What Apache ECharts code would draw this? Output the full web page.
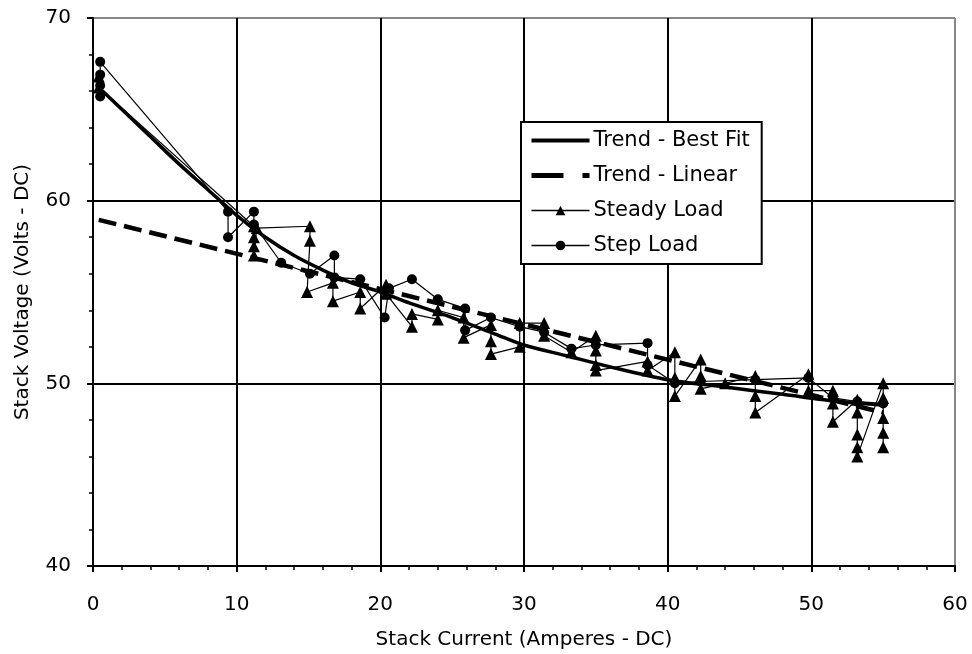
<!DOCTYPE html>
<html><head><meta charset="utf-8">
<script src="https://cdn.jsdelivr.net/npm/echarts@6/dist/echarts.min.js"></script>
<style>html,body{margin:0;padding:0;background:#fff}#c{width:972px;height:654px}</style>
</head><body><div id="c"></div>
<script>
var xTicks = [0, 10, 20, 30, 40, 50, 60];
var yTicks = [40, 50, 60, 70];

var bestFitX = [0.4, 2, 4, 6, 8, 10, 12, 14, 16, 18, 20, 22, 25, 28, 30, 33, 36, 40, 44, 48, 52, 55];
var bestFitY = [66.2, 65.0, 63.5, 62.0, 60.6, 59.2, 58.0, 57.0, 56.2, 55.5, 55.0, 54.4, 53.6, 52.7, 52.1, 51.5, 50.9, 50.2, 49.8, 49.4, 49.0, 48.8];

var linearX = [0.4, 55];
var linearY = [58.95, 48.4];

var steadyX = [0.4, 0.4, 11.2, 11.2, 11.2, 11.2, 11.4, 15.1, 15.1, 14.9, 16.7, 16.7, 18.6, 18.6, 20.4, 20.4, 22.2, 22.2, 24.0, 24.0, 25.8, 25.8, 27.7, 27.7, 27.7, 29.7, 29.7, 31.4, 31.4, 33.3, 35.0, 35.0, 35.0, 35.0, 38.6, 38.6, 40.5, 40.5, 40.5, 42.3, 42.3, 42.3, 44.0, 46.1, 46.1, 46.1, 49.8, 49.8, 51.5, 51.5, 51.5, 53.2, 53.2, 53.2, 53.2, 53.2, 55.0, 55.0, 55.0, 55.0, 55.0];
var steadyY = [66.8, 66.2, 58.6, 58.0, 57.5, 57.0, 58.5, 58.6, 57.8, 55.0, 55.5, 54.5, 55.0, 54.1, 55.4, 54.9, 53.1, 53.8, 53.5, 54.0, 53.6, 52.5, 53.2, 52.3, 51.6, 52.0, 53.3, 53.3, 52.6, 51.7, 52.6, 51.8, 51.0, 50.7, 51.2, 50.7, 51.7, 50.3, 49.3, 51.3, 50.4, 49.7, 50.0, 50.4, 49.3, 48.4, 50.5, 49.6, 49.6, 48.9, 47.9, 49.1, 48.4, 47.2, 46.5, 46.0, 50.0, 49.2, 48.1, 47.3, 46.5];

var stepX = [0.5, 0.5, 0.5, 0.5, 9.4, 9.4, 11.2, 11.2, 13.1, 15.1, 16.8, 16.8, 18.6, 20.3, 20.6, 22.2, 24.0, 25.9, 25.9, 27.7, 29.7, 31.4, 33.3, 35.0, 38.6, 38.6, 40.5, 42.3, 46.1, 49.8, 51.5, 53.2, 55.0];
var stepY = [65.7, 66.3, 66.9, 67.6, 59.4, 58.0, 59.4, 58.7, 56.6, 56.0, 57.0, 55.8, 55.7, 53.6, 55.2, 55.7, 54.6, 54.1, 52.9, 53.6, 53.1, 52.8, 51.9, 52.1, 52.2, 51.0, 50.0, 50.1, 50.2, 50.3, 49.2, 49.0, 48.9];

function pairs(xs, ys) { return xs.map(function (x, i) { return [x, ys[i]]; }); }

var font = '"DejaVu Sans", Verdana, sans-serif';
var chart = echarts.init(document.getElementById('c'));
chart.setOption({
  animation: false,
  backgroundColor: '#fff',
  grid: { left: 93, right: 17, top: 18, bottom: 88, containLabel: false, outerBoundsMode: 'none' },
  xAxis: {
    type: 'value', min: xTicks[0], max: xTicks[xTicks.length - 1], interval: 10,
    name: 'Stack Current (Amperes - DC)', nameLocation: 'middle', nameGap: 64,
    nameTextStyle: { fontFamily: font, fontSize: 20, color: '#000' },
    axisLine: { lineStyle: { color: '#000', width: 2 } },
    axisTick: { show: true, length: 6, lineStyle: { color: '#000', width: 2 } },
    minorTick: { show: true, splitNumber: 5, length: 4, lineStyle: { color: '#000', width: 1.5 } },
    axisLabel: { fontFamily: font, fontSize: 20, color: '#000', margin: 29 },
    splitLine: { show: true, lineStyle: { color: ['#000', '#000', '#000', '#000', '#000', '#000', '#888'], width: 2 } }
  },
  yAxis: {
    type: 'value', min: yTicks[0], max: yTicks[yTicks.length - 1], interval: 10,
    name: 'Stack Voltage (Volts - DC)', nameLocation: 'middle', nameGap: 60, nameRotate: 90,
    nameTextStyle: { fontFamily: font, fontSize: 20, color: '#000' },
    axisLine: { show: true, lineStyle: { color: '#000', width: 2 } },
    axisTick: { show: true, length: 6, lineStyle: { color: '#000', width: 2 } },
    minorTick: { show: true, splitNumber: 5, length: 4, lineStyle: { color: '#000', width: 1.5 } },
    axisLabel: { fontFamily: font, fontSize: 20, color: '#000', margin: 22 },
    splitLine: { show: true, lineStyle: { color: ['#000', '#000', '#000', '#888'], width: 2 } }
  },
  legend: {
    orient: 'vertical', left: 521, top: 122,
    data: [
      { name: 'Trend - Best Fit', itemStyle: { opacity: 0 }, lineStyle: { width: 4, color: '#000', type: 'solid' } },
      { name: 'Trend - Linear', itemStyle: { opacity: 0 }, lineStyle: { width: 5, color: '#000', type: [32, 19] } },
      { name: 'Steady Load', lineStyle: { width: 1.5, color: '#000' } },
      { name: 'Step Load', lineStyle: { width: 1.5, color: '#000' } }
    ],
    backgroundColor: '#fff', borderColor: '#000', borderWidth: 2, borderRadius: 0,
    padding: [8, 12, 8, 8], itemGap: 14, itemWidth: 58, itemHeight: 12,
    textStyle: { fontFamily: font, fontSize: 21, color: '#000', padding: [0, 0, 0, -1] }
  },
  series: [
    {
      name: 'Step Load', type: 'line', data: pairs(stepX, stepY),
      symbol: 'circle', symbolSize: 10, showSymbol: true,
      lineStyle: { color: '#000', width: 1.2 }, itemStyle: { color: '#000' }, z: 2
    },
    {
      name: 'Steady Load', type: 'line', data: pairs(steadyX, steadyY),
      symbol: 'triangle', symbolSize: 12, showSymbol: true,
      lineStyle: { color: '#000', width: 1.2 }, itemStyle: { color: '#000' }, z: 2
    },
    {
      name: 'Trend - Linear', type: 'line', data: pairs(linearX, linearY),
      symbol: 'none', lineStyle: { color: '#000', width: 4.5, type: [18, 8] }, itemStyle: { color: '#000' }, z: 3
    },
    {
      name: 'Trend - Best Fit', type: 'line', data: pairs(bestFitX, bestFitY), smooth: 0.3,
      symbol: 'none', lineStyle: { color: '#000', width: 3.5 }, itemStyle: { color: '#000' }, z: 3
    }
  ]
});
</script></body></html>
